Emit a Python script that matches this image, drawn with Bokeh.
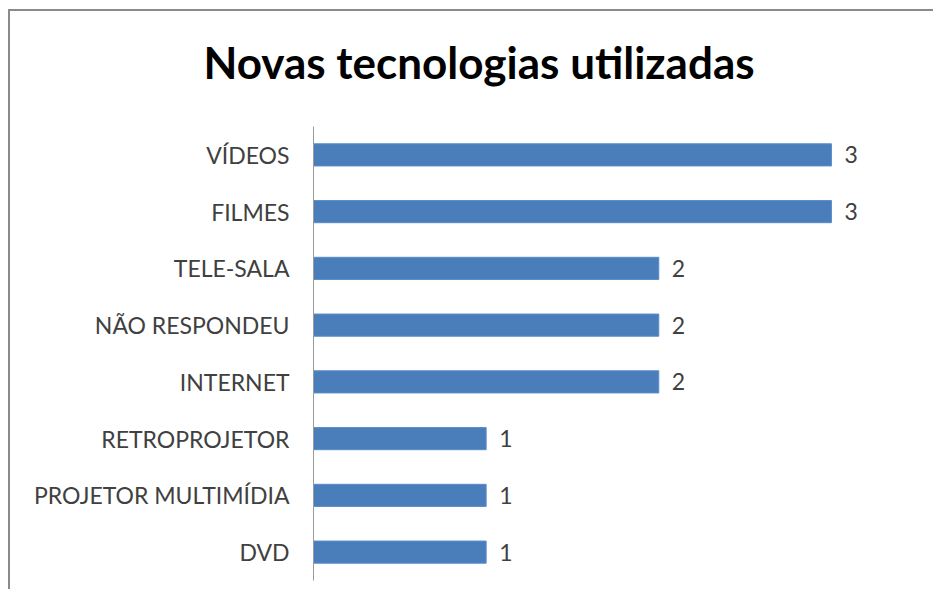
from bokeh.plotting import figure
from bokeh.models import ColumnDataSource, LabelSet, FactorRange, Range1d, Title
from bokeh.core.properties import value
from bokeh.embed import file_html
from bokeh.resources import INLINE

categories = ["VÍDEOS", "FILMES", "TELE-SALA", "NÃO RESPONDEU", "INTERNET",
              "RETROPROJETOR", "PROJETOR MULTIMÍDIA", "DVD"]
values = [3, 3, 2, 2, 2, 1, 1, 1]
title_text = "Novas tecnologias utilizadas"

factors = list(reversed(categories))
src = ColumnDataSource(dict(cat=categories, val=values, txt=[str(v) for v in values]))

p = figure(width=925, height=580, y_range=FactorRange(*factors, range_padding=0),
           x_range=Range1d(0, 3.40), output_backend="svg", toolbar_location=None,
           min_border_left=303, min_border_right=35, min_border_top=115, min_border_bottom=11)
p.styles = {"border-left": "2px solid #8a8a8a", "border-top": "2px solid #8a8a8a",
            "margin-left": "8px", "margin-top": "9px"}
p.outline_line_color = None
p.border_fill_color = "white"
p.grid.visible = False
p.xaxis.visible = False

p.hbar(y="cat", right="val", left=0, height=0.39, source=src,
       fill_color="#4a7ebb", line_color="#5b8ccb", line_width=1)

labels = LabelSet(x="val", y="cat", text="txt", source=src, x_offset=13,
                  text_baseline="middle", text_font=value("Lato"),
                  text_font_size=value("23px"), text_color="#404040")
p.add_layout(labels)

yax = p.yaxis[0]
yax.axis_line_color = "#9a9a9a"
yax.major_tick_line_color = None
yax.minor_tick_line_color = None
yax.major_label_text_font = "Lato"
yax.major_label_text_font_size = "23px"
yax.major_label_text_color = "#404040"
yax.major_label_standoff = 18

# spacer (closest to the frame) pushes the real title upward
spacer = Title(text=" ", standoff=34, text_font_size="1px", text_color="white")
p.add_layout(spacer, "above")

t = Title(text=title_text, align="left", offset=-110, standoff=0, vertical_align="top",
          text_font="Lato", text_font_style="bold", text_font_size="44px",
          text_color="#000000")
p.add_layout(t, "above")

open("out.html", "w").write(file_html(p, INLINE))
